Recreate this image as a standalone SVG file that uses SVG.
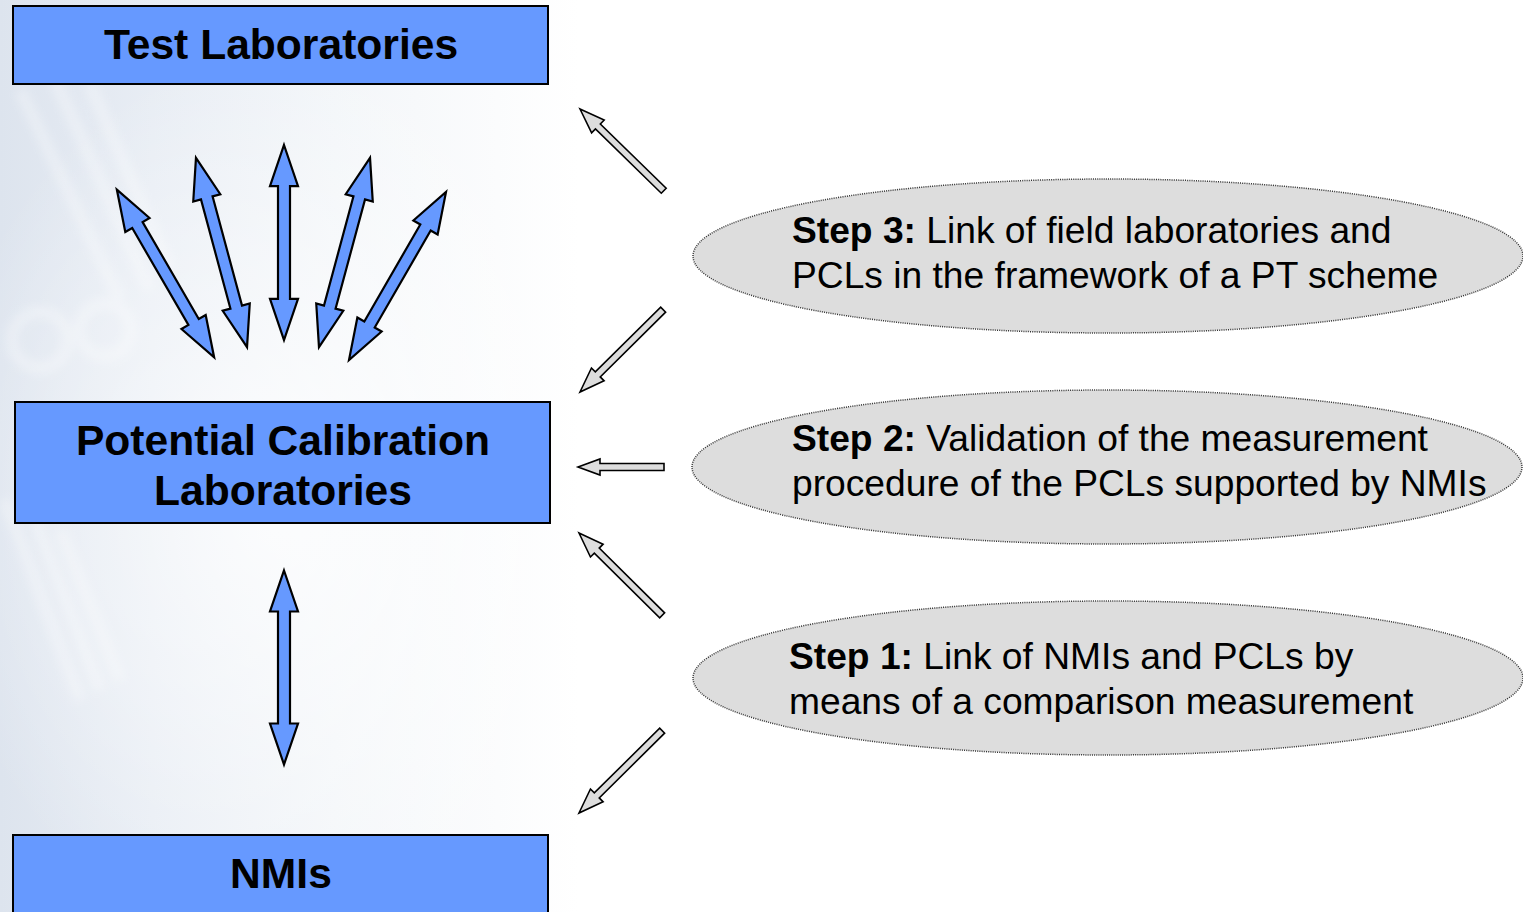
<svg xmlns="http://www.w3.org/2000/svg" width="1523" height="912" viewBox="0 0 1523 912">
  <defs>
    <linearGradient id="bgFade" x1="0" y1="0" x2="1" y2="0" gradientUnits="objectBoundingBox">
      <stop offset="0" stop-color="#dde4ee"/>
      <stop offset="0.1" stop-color="#e8edf4"/>
      <stop offset="0.22" stop-color="#f3f6f9"/>
      <stop offset="0.38" stop-color="#ffffff"/>
      <stop offset="1" stop-color="#ffffff"/>
    </linearGradient>
    <radialGradient id="bgGlow" cx="0.4" cy="0.55" r="0.5">
      <stop offset="0" stop-color="#ffffff" stop-opacity="0.8"/>
      <stop offset="1" stop-color="#ffffff" stop-opacity="0"/>
    </radialGradient>
    <filter id="soft" x="-20%" y="-20%" width="140%" height="140%">
      <feGaussianBlur stdDeviation="5"/>
    </filter>
    <!-- double-headed blue arrow, pointing along y, centred on the origin (length 194) -->
    <polygon id="dbl" points="0,-97 14,-56 6,-56 6,56 14,56 0,97 -14,56 -6,56 -6,-56 -14,-56"/>
    <!-- single-headed grey arrows, tip at the origin, tail along +x -->
    <polygon id="diag" points="0,0 25,-9 25,-3.5 117,-3.5 117,3.5 25,3.5 25,9"/>
    <polygon id="horiz" points="0,0 22,-8 22,-3.5 86,-3.5 86,3.5 22,3.5 22,8"/>
  </defs>
  <style>
    .box { fill: #6699ff; stroke: #000; stroke-width: 2; }
    .boxText { font-family: "Liberation Sans", Arial, sans-serif; font-weight: bold; font-size: 42.6px; fill: #000; text-anchor: middle; }
    .blue { fill: #6699ff; stroke: #000; stroke-width: 2.2; stroke-linejoin: miter; }
    .grey { fill: #dddddd; stroke: #000; stroke-width: 1.6; stroke-linejoin: miter; }
    .step { fill: #dddddd; stroke: #333; stroke-width: 1.5; stroke-dasharray: 1 1.2; }
    .stepText { font-family: "Liberation Sans", Arial, sans-serif; font-size: 37.2px; fill: #000; }
    .b { font-weight: bold; }
  </style>

  <!-- faded backdrop on the left side -->
  <rect x="0" y="0" width="1523" height="912" fill="#ffffff"/>
  <rect x="0" y="0" width="1523" height="912" fill="url(#bgFade)"/>
  <g opacity="0.3" stroke="#ffffff" stroke-width="12" fill="none" filter="url(#soft)">
    <path d="M20,90 L120,300 M55,80 L150,290 M90,85 L170,270 M5,500 L80,700 M35,520 L100,690 M60,530 L120,680"/>
    <circle cx="40" cy="340" r="28"/>
    <circle cx="105" cy="330" r="26"/>
  </g>
  <rect x="0" y="0" width="700" height="912" fill="url(#bgGlow)"/>

  <!-- connectors -->
  <g id="connectors">
    <!-- fan between Test Laboratories and Potential Calibration Laboratories -->
    <use href="#dbl" class="blue" transform="translate(165.5,273.5) rotate(-30.1)"/>
    <use href="#dbl" class="blue" transform="translate(221.5,252.5) rotate(-15.1) scale(1,1.01)"/>
    <use href="#dbl" class="blue" transform="translate(284,242.5) scale(1,1.005)"/>
    <use href="#dbl" class="blue" transform="translate(344.5,252.5) rotate(15.1) scale(1,1.01)"/>
    <use href="#dbl" class="blue" transform="translate(397.5,276) rotate(30)"/>
    <!-- Potential Calibration Laboratories to NMIs -->
    <use href="#dbl" class="blue" transform="translate(284,667.5)"/>

    <!-- step arrows -->
    <use href="#diag" class="grey" transform="translate(580,109) rotate(44.3)"/>
    <use href="#diag" class="grey" transform="translate(580,392) rotate(-44.7)"/>
    <use href="#horiz" class="grey" transform="translate(578,467)"/>
    <use href="#diag" class="grey" transform="translate(579,533) rotate(44.7)"/>
    <use href="#diag" class="grey" transform="translate(579,813) rotate(-44.7)"/>
  </g>

  <!-- nodes -->
  <g id="test-laboratories">
    <rect class="box" x="13" y="6" width="535" height="78"/>
    <text class="boxText" x="281" y="59">Test Laboratories</text>
  </g>

  <g id="potential-calibration-laboratories">
    <rect class="box" x="15" y="402" width="535" height="121"/>
    <text class="boxText" x="283" y="455">Potential Calibration</text>
    <text class="boxText" x="283" y="505">Laboratories</text>
  </g>

  <g id="nmis">
    <rect class="box" x="13" y="835" width="535" height="90"/>
    <text class="boxText" x="281" y="888">NMIs</text>
  </g>

  <g id="step-3">
    <ellipse class="step" cx="1108" cy="256" rx="415" ry="77"/>
    <text class="stepText" x="792" y="243"><tspan class="b">Step 3:</tspan> Link of field laboratories and</text>
    <text class="stepText" x="792" y="288">PCLs in the framework of a PT scheme</text>
  </g>

  <g id="step-2">
    <ellipse class="step" cx="1107" cy="467" rx="415" ry="77"/>
    <text class="stepText" x="792" y="451"><tspan class="b">Step 2:</tspan> Validation of the measurement</text>
    <text class="stepText" x="792" y="496">procedure of the PCLs supported by NMIs</text>
  </g>

  <g id="step-1">
    <ellipse class="step" cx="1108" cy="678" rx="415" ry="77"/>
    <text class="stepText" x="789" y="669"><tspan class="b">Step 1:</tspan> Link of NMIs and PCLs by</text>
    <text class="stepText" x="789" y="714">means of a comparison measurement</text>
  </g>
</svg>
